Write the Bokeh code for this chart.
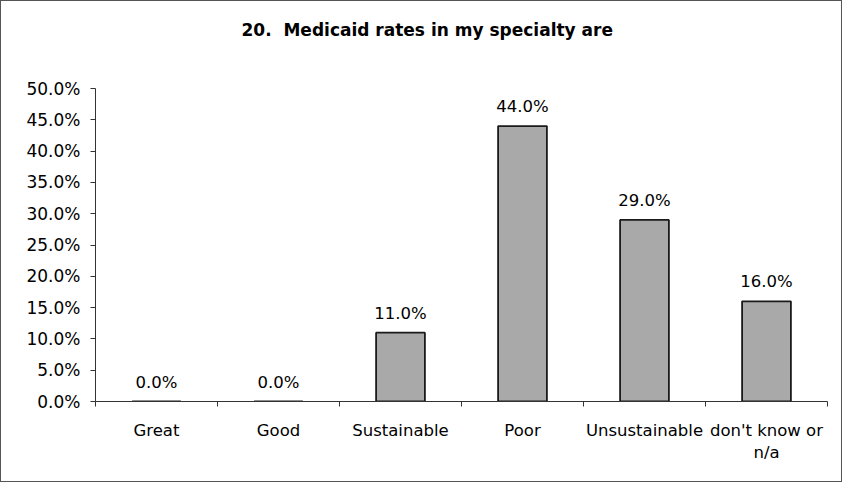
from bokeh.plotting import figure
from bokeh.models import ColumnDataSource, Range1d, FixedTicker, PrintfTickFormatter, Title
from bokeh.core.properties import value
from bokeh.embed import file_html
from bokeh.resources import INLINE

categories = ["Great", "Good", "Sustainable", "Poor", "Unsustainable", "don't know or\nn/a"]
values = [0.0, 0.0, 11.0, 44.0, 29.0, 16.0]
y_ticks = [0, 5, 10, 15, 20, 25, 30, 35, 40, 45, 50]
title_text = "20.\u00a0 Medicaid rates in my specialty are"

FONT = "DejaVu Sans"
xs = [i + 0.5 for i in range(len(categories))]
labels = ["%.1f%%" % v for v in values]
src = ColumnDataSource(dict(x=xs, top=values, label=labels))

p = figure(width=842, height=482, output_backend="svg", toolbar_location=None,
           x_range=Range1d(0, len(categories)), y_range=Range1d(0, 50),
           title=title_text)
p.min_border_left = 94
p.min_border_right = 16
p.min_border_top = 87
p.min_border_bottom = 82
p.outline_line_color = None
p.grid.visible = False
p.styles = {"border": "1px solid #555555"}

# spacer between the title and the plot frame
p.add_layout(Title(text=" ", standoff=28, text_font_size="17px"), "above")

p.title.text_font = FONT
p.title.text_font_size = "17px"
p.title.text_font_style = "bold"
p.title.text_color = "#000000"
p.title.align = "left"
p.title.offset = 146
p.title.standoff = 0

p.vbar(x="x", top="top", width=0.4, bottom=0, source=src,
       fill_color="#a9a9a9", line_color="#1a1a1a", line_width=1.8)
p.text(x="x", y="top", text="label", source=src, text_align="center",
       text_baseline="bottom", y_offset=-10, text_font_size="16.5px",
       text_font=value(FONT), text_color="#000000")

ya = p.yaxis[0]
ya.ticker = FixedTicker(ticks=y_ticks)
ya.formatter = PrintfTickFormatter(format="%.1f%%")
ya.major_label_text_font = FONT
ya.major_label_text_font_size = "17px"
ya.major_label_text_color = "#000000"
ya.major_tick_out = 5
ya.major_tick_in = 0
ya.minor_tick_line_color = None
ya.major_label_standoff = 10
ya.axis_line_color = "#333333"
ya.major_tick_line_color = "#333333"

xa = p.xaxis[0]
xa.ticker = FixedTicker(ticks=xs, minor_ticks=list(range(len(categories) + 1)))
xa.major_label_overrides = {x: c for x, c in zip(xs, categories)}
xa.major_label_text_font = FONT
xa.major_label_text_font_size = "16.5px"
xa.major_label_text_color = "#000000"
xa.major_tick_line_color = None
xa.major_tick_out = 0
xa.major_tick_in = 0
xa.minor_tick_out = 5
xa.minor_tick_in = 0
xa.minor_tick_line_color = "#333333"
xa.axis_line_color = "#333333"
xa.major_label_standoff = 14

open("out.html", "w").write(file_html(p, INLINE))
